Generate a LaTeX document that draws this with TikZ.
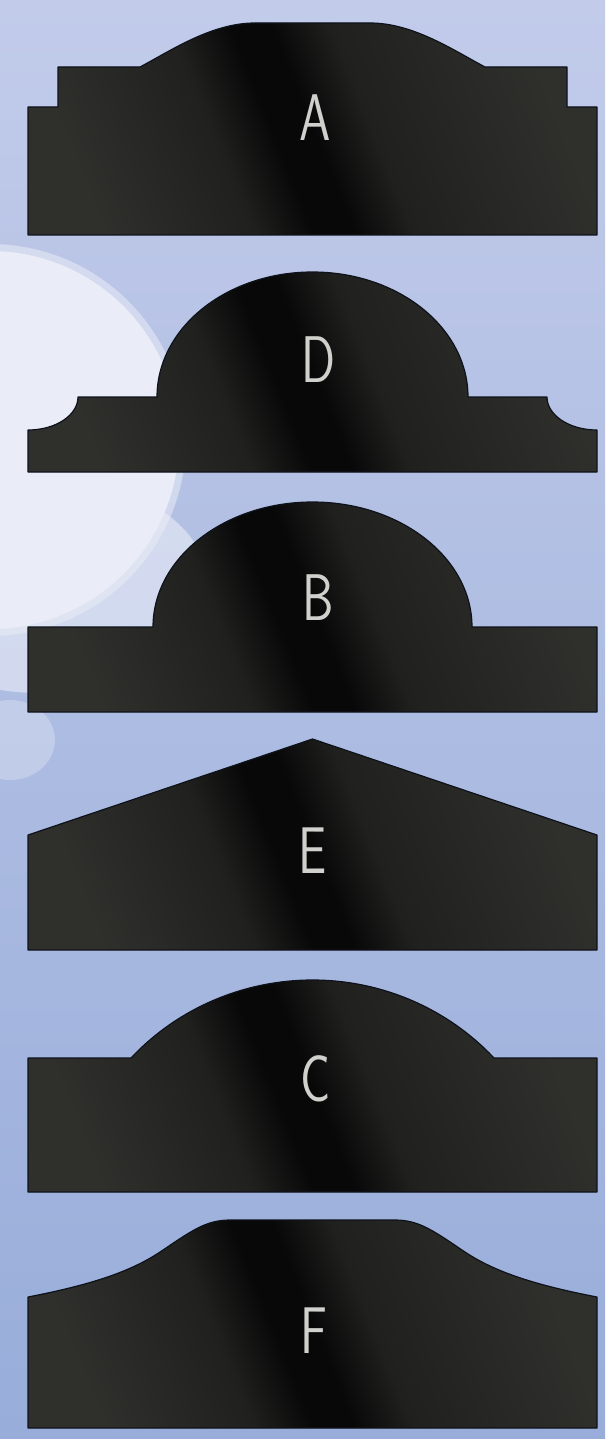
\documentclass[tikz,border=0pt]{standalone}
\usepackage{tikz}
\definecolor{skyTop}{RGB}{194,203,234}
\definecolor{skyLow}{RGB}{152,173,218}
\definecolor{cloud}{RGB}{234,237,247}
\definecolor{sgnLite}{RGB}{47,47,44}
\definecolor{sgnBase}{RGB}{32,32,30}
\definecolor{sgnDark}{RGB}{8,8,9}
\definecolor{sgnEdge}{RGB}{14,18,26}
\definecolor{txt}{RGB}{208,208,204}
\pgfdeclarehorizontalshading{sheen}{100bp}{color(0bp)=(sgnLite); color(25bp)=(sgnLite); color(40bp)=(sgnBase); color(46bp)=(sgnDark); color(50bp)=(sgnDark); color(56bp)=(sgnBase); color(75bp)=(sgnLite); color(100bp)=(sgnLite)}

\begin{document}
\begin{tikzpicture}[
  x=1pt, y=-1pt,
  sign/.style={shading=sheen, shading angle=22, draw=sgnEdge, line width=1.2pt, line join=round},
  lbl/.style={text=txt, font=\fontsize{66}{66}\selectfont\sffamily, xscale=0.76, inner sep=0pt},
]
\useasboundingbox (0,0) rectangle (605,1439);

% ---- sky ----
\fill[top color=skyTop, bottom color=skyLow] (0,0) rectangle (605,1439);
\fill[cloud, opacity=0.55] (-10,440) circle[radius=196];
\fill[cloud] (-10,440) circle[radius=189];
\fill[cloud, opacity=0.6] (40,585) ellipse[x radius=168, y radius=108];
\fill[cloud, opacity=0.35] (10,740) ellipse[x radius=45, y radius=40];

% ---- A ----
\shadedraw[sign] (28,235) -- (28,107) -- (58,107) -- (58,67) -- (140,67)
  .. controls (172,50) and (212,23) .. (255,23) -- (370,23)
  .. controls (413,23) and (453,50) .. (485,67) -- (567,67) -- (567,107)
  -- (597,107) -- (597,235) -- cycle;
\node[lbl] (A) at (315,118) {A};

% ---- D ----
\shadedraw[sign] (28,472) -- (28,430) .. controls (56,430) and (78,415) .. (78,397)
  -- (157,397) .. controls (157,328) and (226.5,272) .. (312.5,272)
  .. controls (398.5,272) and (468,328) .. (468,397) -- (547,397)
  .. controls (547,415) and (569,430) .. (597,430) -- (597,472) -- cycle;
\node[lbl] (D) at (318,360) {D};

% ---- B ----
\shadedraw[sign] (28,712) -- (28,627) -- (153,627)
  .. controls (153,558) and (224.5,502) .. (312.5,502)
  .. controls (400.5,502) and (472,558) .. (472,627)
  -- (597,627) -- (597,712) -- cycle;
\node[lbl] (B) at (318,598) {B};

% ---- E ----
\shadedraw[sign] (28,950) -- (28,835) -- (312.5,739) -- (597,835) -- (597,950) -- cycle;
\node[lbl] (E) at (313,851) {E};

% ---- C ----
\shadedraw[sign] (28,1192) -- (28,1058) -- (131,1058)
  .. controls (178,1008) and (244,980) .. (312.5,980)
  .. controls (381,980) and (447,1008) .. (494,1058)
  -- (597,1058) -- (597,1192) -- cycle;
\node[lbl] (C) at (316,1079) {C};

% ---- F ----
\shadedraw[sign] (28,1428) -- (28,1297) .. controls (90,1285) and (130,1272) .. (160,1252)
  .. controls (190,1232) and (205,1220) .. (230,1220) -- (395,1220)
  .. controls (420,1220) and (435,1232) .. (465,1252)
  .. controls (495,1272) and (535,1285) .. (597,1297) -- (597,1428) -- cycle;
\node[lbl] (F) at (314,1331) {F};

\end{tikzpicture}
\end{document}
